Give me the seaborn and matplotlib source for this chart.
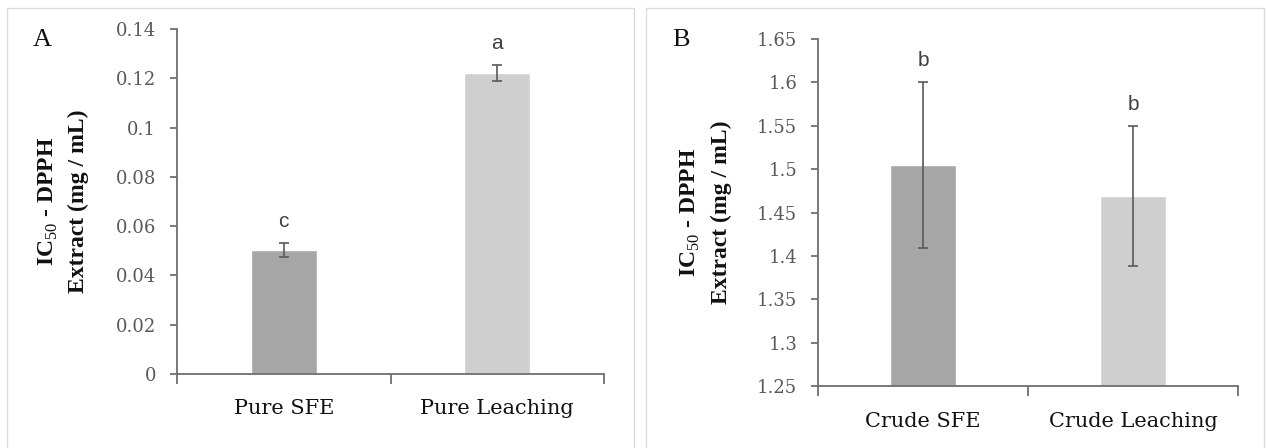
import matplotlib
matplotlib.use("Agg")
import matplotlib.pyplot as plt
from matplotlib.patches import Rectangle
from matplotlib.ticker import FuncFormatter, FixedLocator
import seaborn as sns
import pandas as pd

# ---------------- data ----------------
cats_a = ["Pure SFE", "Pure Leaching"]
vals_a = [0.0503, 0.1222]
errs_a = [0.0030, 0.0033]
lets_a = ["c", "a"]

cats_b = ["Crude SFE", "Crude Leaching"]
vals_b = [1.505, 1.469]
errs_b = [0.096, 0.081]
lets_b = ["b", "b"]

ticks_a = [0, 0.02, 0.04, 0.06, 0.08, 0.10, 0.12, 0.14]
ticks_b = [1.25, 1.30, 1.35, 1.40, 1.45, 1.50, 1.55, 1.60, 1.65]

bar_colors = ["#a6a6a6", "#d0cfcf"]
ylabel_text = "IC$_{\\mathrm{50}}$ - DPPH\nExtract (mg / mL)"

# ---------------- style ----------------
sns.set_theme(style="white")
plt.rcParams["font.family"] = ["DejaVu Serif", "DejaVu Sans"]
plt.rcParams["mathtext.fontset"] = "custom"
plt.rcParams["mathtext.rm"] = "Liberation Serif"

W, H = 1266, 448
fig = plt.figure(figsize=(W / 100, H / 100), dpi=100)

# panel frames
fig.patches.append(Rectangle((7 / W, -0.02), 627 / W, (448 - 8) / H + 0.02,
                             transform=fig.transFigure, fill=False,
                             edgecolor="#dcdcdc", lw=1.0))
fig.patches.append(Rectangle((646 / W, -0.02), 618 / W, (448 - 8) / H + 0.02,
                             transform=fig.transFigure, fill=False,
                             edgecolor="#dcdcdc", lw=1.0))


def px_axes(l, t, r, b):
    return fig.add_axes([l / W, 1 - b / H, (r - l) / W, (b - t) / H])


ax_a = px_axes(177, 29, 604, 374)
ax_b = px_axes(818, 39, 1238, 386)


def draw(ax, cats, vals, errs, lets, ticks, letter, letter_xy, xpad):
    df = pd.DataFrame({"cat": cats, "val": vals})
    sns.barplot(data=df, x="cat", y="val", hue="cat", palette=bar_colors,
                width=0.31, errorbar=None, legend=False, ax=ax,
                saturation=1, zorder=2)
    ax.errorbar(range(len(cats)), vals, yerr=errs, fmt="none",
                ecolor="#5a5a5a", elinewidth=1.2, capsize=3.8, capthick=1.2,
                zorder=3)
    for i, (v, e, l) in enumerate(zip(vals, errs, lets)):
        ax.annotate(l, (i, v + e), xytext=(0, 11), textcoords="offset points",
                    ha="center", va="baseline", fontsize=15,
                    family=["Liberation Sans", "DejaVu Sans"], color="#404040")
    ax.set_xlim(-0.5, len(cats) - 0.5)
    ax.set_ylim(ticks[0], ticks[-1])
    ax.yaxis.set_major_locator(FixedLocator(ticks))
    ax.yaxis.set_major_formatter(FuncFormatter(lambda v, p: "%g" % round(v, 4)))
    ax.set_xlabel("")
    ax.set_ylabel("")
    for s in ["top", "right"]:
        ax.spines[s].set_visible(False)
    for s in ["left", "bottom"]:
        ax.spines[s].set_color("#6e6e6e")
        ax.spines[s].set_linewidth(1.3)
        ax.spines[s].set_zorder(4)
    ax.tick_params(axis="y", which="major", direction="out", length=5,
                   width=1.3, color="#6e6e6e", pad=10, labelsize=13,
                   labelcolor="#595959", left=True)
    ax.tick_params(axis="x", which="major", length=0, pad=xpad, labelsize=15,
                   labelcolor="#111111")
    ax.xaxis.set_minor_locator(FixedLocator([-0.5, 0.5, len(cats) - 0.5]))
    ax.tick_params(axis="x", which="minor", direction="out", length=7,
                   width=1.3, color="#6e6e6e", bottom=True)
    for lab in ax.get_xticklabels():
        lab.set_fontfamily(["DejaVu Serif"])
    ax.text(-0.268, 0.5, ylabel_text, transform=ax.transAxes, rotation=90,
            rotation_mode="anchor", ha="center", va="center",
            multialignment="center", fontsize=17, fontweight="bold",
            family=["Liberation Serif", "DejaVu Serif"], linespacing=1.5,
            color="#111111")
    fig.text(letter_xy[0] / W, 1 - letter_xy[1] / H, letter, fontsize=19,
             family=["Liberation Serif", "DejaVu Serif"], ha="center",
             va="center", color="#111111")


draw(ax_a, cats_a, vals_a, errs_a, lets_a, ticks_a, "A", (42, 40), 18)
draw(ax_b, cats_b, vals_b, errs_b, lets_b, ticks_b, "B", (681, 40), 19)

fig.savefig("out.png", dpi=100)
